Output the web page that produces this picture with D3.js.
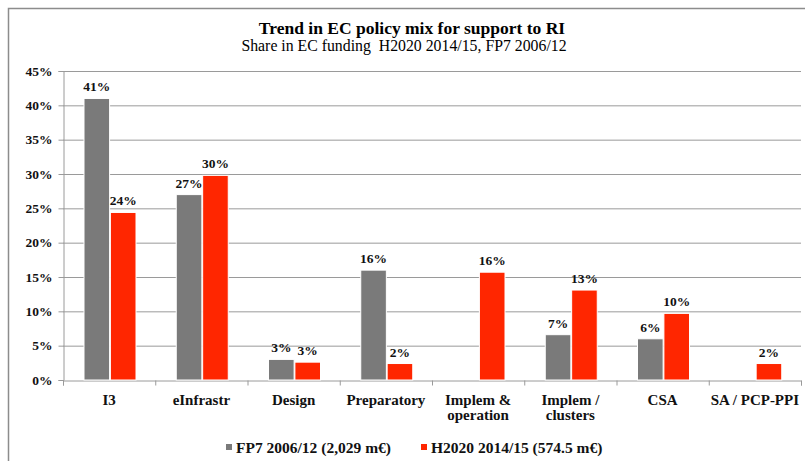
<!DOCTYPE html>
<html><head><meta charset="utf-8">
<script src="https://cdn.jsdelivr.net/npm/d3@7"></script>
<style>body{margin:0;background:#fff}svg{display:block}</style>
</head><body>
<script>
const categories = [["I3"],["eInfrastr"],["Design"],["Preparatory"],["Implem &","operation"],["Implem /","clusters"],["CSA"],["SA / PCP-PPI"]];
const fp7 = [41.0, 27.0, 3.0, 16.0, null, 6.6, 6.0, null];
const h2020 = [24.4, 29.8, 2.6, 2.4, 15.7, 13.1, 9.7, 2.4];
const seriesNames = ["FP7 2006/12 (2,029 m€)", "H2020 2014/15 (574.5 m€)"];
const colors = ["#7a7a7a", "#ff2600"];
const yTicks = [0,5,10,15,20,25,30,35,40,45];

(function() {
const W = 805, H = 461;
const font = "'Liberation Serif', 'DejaVu Serif', serif";
const svg = d3.select("body").append("svg").attr("width", W).attr("height", H).style("font-family", font);

svg.append("rect").attr("x", 8.5).attr("y", 8.5).attr("width", 900).attr("height", 600)
  .attr("fill", "none").attr("stroke", "#8c8c8c").attr("stroke-width", 1.5);

svg.append("text").attr("x", 412).attr("y", 34).attr("text-anchor", "middle")
  .attr("font-size", 17.5).attr("font-weight", "bold").text("Trend in EC policy mix for support to RI");
svg.append("text").attr("x", 404).attr("y", 51).attr("text-anchor", "middle")
  .attr("font-size", 15.8).style("white-space","pre").text("Share in EC funding  H2020 2014/15, FP7 2006/12");

const pL = 63, pR = 801, pT = 71, pB = 380;
const y = d3.scaleLinear().domain([0, 45]).range([pB, pT]);
const x0 = d3.scaleBand().domain(d3.range(categories.length)).range([pL, pR]).padding(0);
const x1 = d3.scaleBand().domain([0, 1]).range([21, 73]).paddingInner(0.03);

svg.append("g").selectAll("line").data(yTicks.filter(d => d > 0)).join("line")
  .attr("x1", pL).attr("x2", pR).attr("y1", d => y(d) + 0.5).attr("y2", d => y(d) + 0.5)
  .attr("stroke", "#9a9a9a").attr("stroke-width", 1);

const ya = svg.append("g").attr("transform", `translate(${pL + 0.5},0)`)
  .call(d3.axisLeft(y).tickValues(yTicks).tickSize(5).tickPadding(6).tickFormat(d => d + "%"));
ya.select(".domain").attr("stroke", "#9a9a9a");
ya.selectAll(".tick line").attr("stroke", "#9a9a9a");
ya.selectAll("text").attr("font-family", font).attr("font-size", 13.5).attr("font-weight", "bold").attr("fill", "#111");

const xa = svg.append("g").attr("transform", `translate(0,${pB + 0.5})`)
  .call(d3.axisBottom(d3.scaleLinear().domain([0, categories.length]).range([pL, pR]))
    .tickValues(d3.range(categories.length + 1)).tickSize(5).tickFormat(""));
xa.select(".domain").attr("stroke", "#9a9a9a");
xa.selectAll(".tick line").attr("stroke", "#9a9a9a");

const cl = svg.append("g").selectAll("text").data(categories).join("text")
  .attr("x", (d, i) => x0(i) + x0.bandwidth() / 2).attr("y", 405)
  .attr("text-anchor", "middle").attr("font-size", 15).attr("font-weight", "bold").attr("fill", "#111");
cl.selectAll("tspan").data(d => d).join("tspan")
  .attr("x", function() { return this.parentNode.getAttribute("x"); })
  .attr("dy", (d, i) => i === 0 ? 0 : 15).text(d => d);

const series = [fp7, h2020];
series.forEach((vals, s) => {
  const g = svg.append("g");
  const data = vals.map((v, i) => ({ v, i })).filter(d => d.v !== null);
  g.selectAll("rect").data(data).join("rect")
    .attr("x", d => x0(d.i) + x1(s)).attr("width", x1.bandwidth())
    .attr("y", d => y(d.v)).attr("height", d => pB - y(d.v))
    .attr("fill", colors[s]).attr("stroke", "#fff").attr("stroke-width", 1);
  g.selectAll("text").data(data).join("text")
    .attr("x", d => x0(d.i) + x1(s) + x1.bandwidth() / 2).attr("y", d => y(d.v) - 7)
    .attr("text-anchor", "middle").attr("font-size", 13.5).attr("font-weight", "bold").attr("fill", "#111")
    .text(d => Math.round(d.v) + "%");
});

const legX = [226, 421];
seriesNames.forEach((n, s) => {
  svg.append("rect").attr("x", legX[s]).attr("y", 444).attr("width", 6).attr("height", 6).attr("fill", colors[s]);
  svg.append("text").attr("x", legX[s] + 10).attr("y", 452.5).attr("font-size", 15.5).attr("font-weight", "bold").attr("fill", "#111").text(n);
});
})();
</script>
</body></html>
